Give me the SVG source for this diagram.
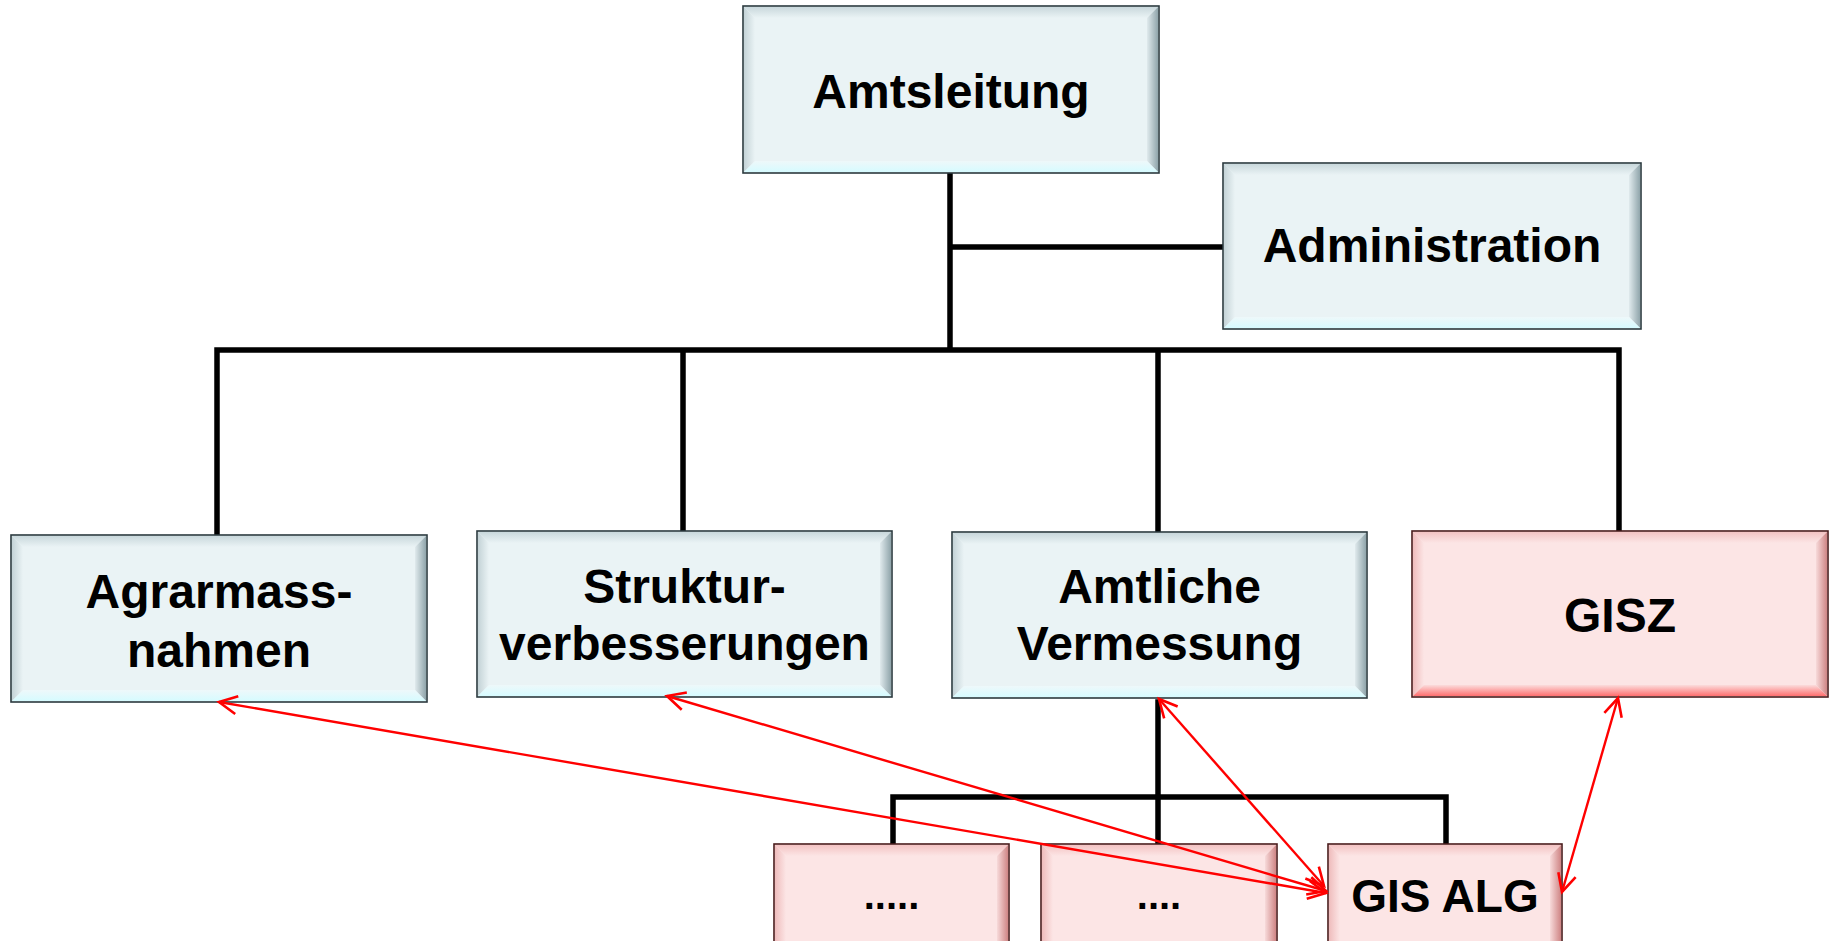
<svg xmlns="http://www.w3.org/2000/svg" width="1831" height="941" viewBox="0 0 1831 941">
<style>
text{font-family:"Liberation Sans",Arial,sans-serif;font-weight:bold;fill:#000;text-anchor:middle}
.t{font-size:48px}
.d{font-size:40px}
.b{fill:#eaf3f5;stroke:#2b3a3f;stroke-width:1.6}
.p{fill:#fce5e5;stroke:#4a1c1c;stroke-width:1.6}
.bt{fill:url(#gbt)}.bl{fill:url(#gbl)}.br{fill:url(#gbr)}.bb{fill:url(#gbb)}
.pt{fill:url(#gpt)}.pl{fill:url(#gpl)}.pr{fill:url(#gpr)}.pb{fill:url(#gpb)}
.tree{stroke:#000;stroke-width:5.5;fill:none;stroke-linecap:square}
.rel{stroke:#ff0000;stroke-width:2.4;fill:none;marker-start:url(#ah);marker-end:url(#ah)}
</style>
<defs>
<linearGradient id="gbt" x1="0" y1="0" x2="0" y2="1"><stop offset="0" stop-color="#c9d8dc"/><stop offset="1" stop-color="#eaf3f5"/></linearGradient>
<linearGradient id="gbl" x1="0" y1="0" x2="1" y2="0"><stop offset="0" stop-color="#c4d3d7"/><stop offset="1" stop-color="#eaf3f5"/></linearGradient>
<linearGradient id="gbr" x1="1" y1="0" x2="0" y2="0"><stop offset="0" stop-color="#90a5ab"/><stop offset="1" stop-color="#e0eaed"/></linearGradient>
<linearGradient id="gbb" x1="0" y1="1" x2="0" y2="0"><stop offset="0" stop-color="#d6fbff"/><stop offset="1" stop-color="#eef8fa"/></linearGradient>
<linearGradient id="gpt" x1="0" y1="0" x2="0" y2="1"><stop offset="0" stop-color="#f3c3c3"/><stop offset="1" stop-color="#fce5e5"/></linearGradient>
<linearGradient id="gpl" x1="0" y1="0" x2="1" y2="0"><stop offset="0" stop-color="#efbcbc"/><stop offset="1" stop-color="#fce5e5"/></linearGradient>
<linearGradient id="gpr" x1="1" y1="0" x2="0" y2="0"><stop offset="0" stop-color="#cf8585"/><stop offset="1" stop-color="#f7dada"/></linearGradient>
<linearGradient id="gpb" x1="0" y1="1" x2="0" y2="0"><stop offset="0" stop-color="#ff6f6f"/><stop offset="1" stop-color="#fbdcdc"/></linearGradient>
<marker id="ah" viewBox="-22 -12 26 24" refX="0" refY="0" markerWidth="26" markerHeight="24" markerUnits="userSpaceOnUse" orient="auto-start-reverse">
<path d="M-18,-9 L0,0 L-18,9" fill="none" stroke="#ff0000" stroke-width="2.6"/>
</marker>
</defs>
<rect width="1831" height="941" fill="#ffffff"/>

<g id="connectors">
<path class="tree" d="M950,175 V350 M950,247 H1221 M217,350 H1619 M217,350 V533 M683,350 V529 M1158,350 V530 M1619,350 V529"/>
<path class="tree" d="M1158,702 V842 M893,797 H1446 M893,797 V842 M1446,797 V842"/>
</g>

<g id="amtsleitung">
<rect class="b" x="743" y="6" width="416" height="167"/>
<polygon class="bt" points="744,7 1158,7 1147,18 755,18"/>
<polygon class="bl" points="744,7 755,18 755,161 744,172"/>
<polygon class="br" points="1158,7 1158,172 1147,161 1147,18"/>
<polygon class="bb" points="744,172 755,161 1147,161 1158,172"/>
<text class="t" x="951" y="108">Amtsleitung</text>
</g>

<g id="administration">
<rect class="b" x="1223" y="163" width="418" height="166"/>
<polygon class="bt" points="1224,164 1640,164 1629,175 1235,175"/>
<polygon class="bl" points="1224,164 1235,175 1235,317 1224,328"/>
<polygon class="br" points="1640,164 1640,328 1629,317 1629,175"/>
<polygon class="bb" points="1224,328 1235,317 1629,317 1640,328"/>
<text class="t" x="1432" y="262">Administration</text>
</g>

<g id="agrarmassnahmen">
<rect class="b" x="11" y="535" width="416" height="167"/>
<polygon class="bt" points="12,536 426,536 415,547 23,547"/>
<polygon class="bl" points="12,536 23,547 23,690 12,701"/>
<polygon class="br" points="426,536 426,701 415,690 415,547"/>
<polygon class="bb" points="12,701 23,690 415,690 426,701"/>
<text class="t" x="219" y="608">Agrarmass-</text>
<text class="t" x="219" y="667">nahmen</text>
</g>

<g id="strukturverbesserungen">
<rect class="b" x="477" y="531" width="415" height="166"/>
<polygon class="bt" points="478,532 891,532 880,543 489,543"/>
<polygon class="bl" points="478,532 489,543 489,685 478,696"/>
<polygon class="br" points="891,532 891,696 880,685 880,543"/>
<polygon class="bb" points="478,696 489,685 880,685 891,696"/>
<text class="t" x="684.5" y="603">Struktur-</text>
<text class="t" x="684.5" y="660">verbesserungen</text>
</g>

<g id="amtliche-vermessung">
<rect class="b" x="952" y="532" width="415" height="166"/>
<polygon class="bt" points="953,533 1366,533 1355,544 964,544"/>
<polygon class="bl" points="953,533 964,544 964,686 953,697"/>
<polygon class="br" points="1366,533 1366,697 1355,686 1355,544"/>
<polygon class="bb" points="953,697 964,686 1355,686 1366,697"/>
<text class="t" x="1159.5" y="603">Amtliche</text>
<text class="t" x="1159.5" y="660">Vermessung</text>
</g>

<g id="gisz">
<rect class="p" x="1412" y="531" width="416" height="166"/>
<polygon class="pt" points="1413,532 1827,532 1816,543 1424,543"/>
<polygon class="pl" points="1413,532 1424,543 1424,685 1413,696"/>
<polygon class="pr" points="1827,532 1827,696 1816,685 1816,543"/>
<polygon class="pb" points="1413,696 1424,685 1816,685 1827,696"/>
<text class="t" x="1620" y="632">GISZ</text>
</g>

<g id="unit-1">
<rect class="p" x="774" y="844" width="235" height="120"/>
<polygon class="pt" points="775,845 1008,845 997,856 786,856"/>
<polygon class="pl" points="775,845 786,856 786,963 775,963"/>
<polygon class="pr" points="1008,845 1008,963 997,963 997,856"/>
<text class="d" x="891.5" y="909">.....</text>
</g>

<g id="unit-2">
<rect class="p" x="1041" y="844" width="236" height="120"/>
<polygon class="pt" points="1042,845 1276,845 1265,856 1053,856"/>
<polygon class="pl" points="1042,845 1053,856 1053,963 1042,963"/>
<polygon class="pr" points="1276,845 1276,963 1265,963 1265,856"/>
<text class="d" x="1159" y="909">....</text>
</g>

<g id="gis-alg">
<rect class="p" x="1328" y="844" width="234" height="120"/>
<polygon class="pt" points="1329,845 1561,845 1550,856 1340,856"/>
<polygon class="pl" points="1329,845 1340,856 1340,963 1329,963"/>
<polygon class="pr" points="1561,845 1561,963 1550,963 1550,856"/>
<text class="t" x="1445" y="912" style="font-size:46px">GIS ALG</text>
</g>

<g id="relations">
<line class="rel" x1="219" y1="702" x2="1326" y2="893"/>
<line class="rel" x1="667" y1="696" x2="1326" y2="891"/>
<line class="rel" x1="1159" y1="699" x2="1324" y2="886"/>
<line class="rel" x1="1618" y1="698" x2="1562" y2="892"/>
</g>
</svg>
